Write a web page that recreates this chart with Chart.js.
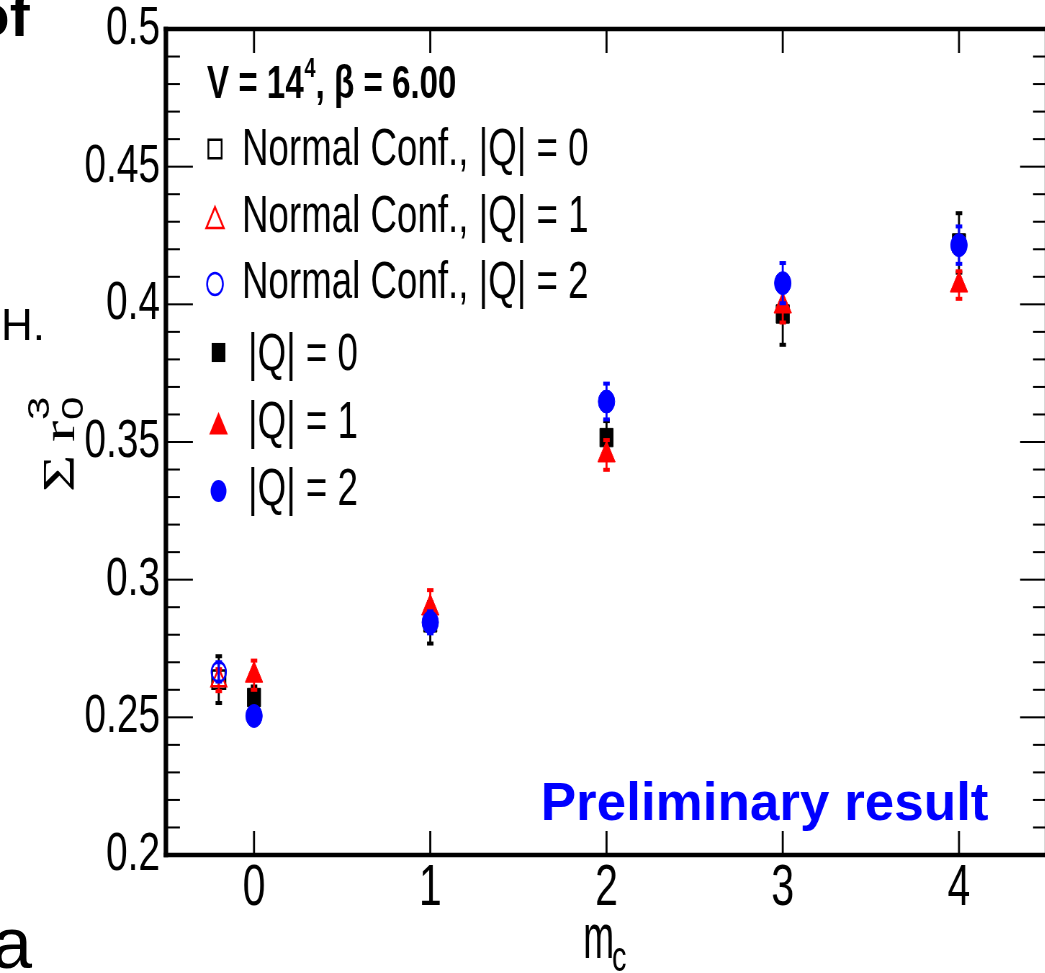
<!DOCTYPE html>
<html><head><meta charset="utf-8">
<script src="https://cdn.jsdelivr.net/npm/chart.js@4.4.1/dist/chart.umd.min.js"></script>
<style>
html,body{margin:0;padding:0;background:#fff;overflow:hidden;width:1045px;height:973px;position:relative;}
#wrap{position:absolute;left:0;top:0;width:1480px;height:973px;transform:scaleX(0.72);transform-origin:0 0;}
canvas{display:block;}
.slide{position:absolute;font-family:"Liberation Sans",Arial,sans-serif;color:#000;white-space:nowrap;line-height:1;}
</style></head><body>
<div id="wrap"><canvas id="c" width="1480" height="973" style="width:1480px;height:973px"></canvas></div>
<div class="slide" style="left:-27px;top:-14px;font-size:60px;font-weight:bold;">of</div>
<div class="slide" style="left:1px;top:303px;font-size:44px;">H.</div>
<div class="slide" style="left:-8px;top:907px;font-size:72px;">a</div>
<script>
// ---- data ----
const xNormal = [-0.2];
const xMain = [0, 1, 2, 3, 4];
const normQ0 = [0.2637];
const normQ0Err = [0.0085];
const normQ1 = [0.2635];
const normQ1Err = [0.004];
const normQ2 = [0.2665];
const normQ2Err = [0.0035];
const q0 = [0.2572, 0.2843, 0.3516, 0.3965, 0.4223];
const q0Err = [0.004, 0.0075, 0.006, 0.0112, 0.0108];
const q1 = [0.2653, 0.2897, 0.3453, 0.3994, 0.4070];
const q1Err = [0.0053, 0.0065, 0.0054, 0.006, 0.005];
const q2 = [0.2505, 0.2845, 0.3647, 0.4077, 0.4215];
const q2Err = [0.003, 0.004, 0.0065, 0.0073, 0.0068];
const xTickValues = [0, 1, 2, 3, 4];
const xTickLabels = ['0', '1', '2', '3', '4'];
const yTickValues = [0.2, 0.25, 0.3, 0.35, 0.4, 0.45, 0.5];
const yTickLabels = ['0.2', '0.25', '0.3', '0.35', '0.4', '0.45', '0.5'];
const yMinorStep = 0.01;
const xRange = [-0.5, 4.5];
const yRange = [0.2, 0.5];
const legendTitle = ['V = 14', '4', ', \u03B2 = 6.00'];
const legendLabels = ['Normal Conf., |Q| = 0', 'Normal Conf., |Q| = 1', 'Normal Conf., |Q| = 2', '|Q| = 0', '|Q| = 1', '|Q| = 2'];

const SQ = 0.72; // horizontal squeeze of the whole figure
const SANS = '"Liberation Sans", Arial, sans-serif';
const BLACK = '#000000', RED = '#ff0000', BLUE = '#0000ff';

function ds(label, xs, ys, errs, color, style, radius, filled, order) {
  return {
    label, errors: errs,
    data: xs.map((x, i) => ({x: x, y: ys[i]})),
    pointStyle: style, pointRadius: radius, pointHoverRadius: radius,
    backgroundColor: filled ? color : 'rgba(0,0,0,0)',
    borderColor: color, pointBorderWidth: filled ? 1 : 2.5,
    showLine: false, order: order, errColor: color
  };
}

const datasets = [
  ds('Normal Conf., |Q| = 0', xNormal, normQ0, normQ0Err, BLACK, 'rect', 13, false, 5),
  ds('Normal Conf., |Q| = 1', xNormal, normQ1, normQ1Err, RED, 'triangle', 12, false, 4),
  ds('Normal Conf., |Q| = 2', xNormal, normQ2, normQ2Err, BLUE, 'circle', 10, false, 3),
  ds('|Q| = 0', xMain, q0, q0Err, BLACK, 'rect', 13, true, 2),
  ds('|Q| = 1', xMain, q1, q1Err, RED, 'triangle', 14, true, 1),
  ds('|Q| = 2', xMain, q2, q2Err, BLUE, 'circle', 11.5, true, 0)
];

function marker(ctx, style, x, y, r, color, filled) {
  ctx.save();
  ctx.beginPath();
  if (style === 'rect') {
    const s = r * Math.SQRT1_2;
    ctx.rect(x - s, y - s, 2 * s, 2 * s);
  } else if (style === 'circle') {
    ctx.arc(x, y, r, 0, 2 * Math.PI);
  } else {
    const a = Math.sin(2 * Math.PI / 3) * r;
    ctx.moveTo(x, y - r);
    ctx.lineTo(x + a, y + r / 2);
    ctx.lineTo(x - a, y + r / 2);
    ctx.closePath();
  }
  if (filled) { ctx.fillStyle = color; ctx.fill(); }
  else { ctx.strokeStyle = color; ctx.lineWidth = 2.5; ctx.stroke(); }
  ctx.restore();
}

const errorBars = {
  id: 'errorBars',
  beforeDatasetDraw(chart, args) {
    const d = chart.data.datasets[args.index];
    if (!d.errors) return;
    const ctx = chart.ctx, xs = chart.scales.x, ys = chart.scales.y;
    ctx.save();
    ctx.fillStyle = d.errColor;
    d.data.forEach((p, i) => {
      const px = xs.getPixelForValue(p.x);
      const top = ys.getPixelForValue(p.y + d.errors[i]);
      const bot = ys.getPixelForValue(p.y - d.errors[i]);
      ctx.fillRect(px - 1.4, top, 2.8, bot - top);
      ctx.fillRect(px - 4.5, top - 2, 9, 4);
      ctx.fillRect(px - 4.5, bot - 2, 9, 4);
    });
    ctx.restore();
  }
};

const frame = {
  id: 'frame',
  beforeDatasetsDraw(chart) {
    const ctx = chart.ctx, xs = chart.scales.x, ys = chart.scales.y;
    const L = xs.getPixelForValue(xRange[0]), R = xs.getPixelForValue(xRange[1]);
    const T = ys.getPixelForValue(yRange[1]), B = ys.getPixelForValue(yRange[0]);
    ctx.save();
    ctx.fillStyle = '#000';
    const nMinor = Math.round((yRange[1] - yRange[0]) / yMinorStep);
    for (let k = 0; k <= nMinor; k++) {
      const v = yRange[0] + k * yMinorStep;
      const major = yTickValues.some(t => Math.abs(t - v) < 1e-9);
      const len = major ? 37.5 : 19.5;
      const py = ys.getPixelForValue(v);
      ctx.fillRect(L, py - 1, len, 2);
      ctx.fillRect(R - len, py - 1, len, 2);
    }
    xTickValues.forEach(v => {
      const px = xs.getPixelForValue(v);
      ctx.fillRect(px - 1.4, B - 24, 2.8, 24);
      ctx.fillRect(px - 1.4, T, 2.8, 24);
    });
    const hw = 4.5, vw = 4.5 / SQ;
    ctx.fillRect(L - vw / 2, T - hw / 2, R - L + vw, hw);
    ctx.fillRect(L - vw / 2, B - hw / 2, R - L + vw, hw);
    ctx.fillRect(L - vw / 2, T - hw / 2, vw, B - T + hw);
    ctx.fillRect(R - vw / 2, T - hw / 2, vw, B - T + hw);
    ctx.restore();
  },
  afterDraw(chart) {
    const ctx = chart.ctx;
    ctx.save();
    ctx.fillStyle = '#000';
    ctx.textBaseline = 'alphabetic';
    ctx.textAlign = 'left';
    let x = 287.5;
    ctx.font = 'bold 46px ' + SANS;
    ctx.fillText(legendTitle[0], x, 98);
    x += ctx.measureText(legendTitle[0]).width + 1;
    ctx.font = 'bold 28px ' + SANS;
    ctx.fillText(legendTitle[1], x, 77);
    x += ctx.measureText(legendTitle[1]).width;
    ctx.font = 'bold 46px ' + SANS;
    ctx.fillText(legendTitle[2], x, 98);
    const rows = [
      {mx: 298.6, my: 149, r: 13, tx: 336, ty: 165},
      {mx: 298.6, my: 221, r: 14, tx: 336, ty: 232},
      {mx: 298.6, my: 284, r: 11, tx: 336, ty: 298},
      {mx: 303.5, my: 352.5, r: 13.5, tx: 344.5, ty: 370},
      {mx: 303.5, my: 427, r: 15, tx: 344.5, ty: 438},
      {mx: 303.5, my: 491, r: 11, tx: 344.5, ty: 505}
    ];
    ctx.font = '51px ' + SANS;
    rows.forEach((rw, i) => {
      const d = chart.data.datasets[i];
      marker(ctx, d.pointStyle, rw.mx, rw.my, rw.r, d.borderColor, d.backgroundColor !== 'rgba(0,0,0,0)');
      ctx.fillStyle = '#000';
      ctx.fillText(legendLabels[i], rw.tx, rw.ty);
    });
    ctx.save();
    ctx.translate(810, 958);
    ctx.scale(0.82, 1);
    ctx.font = '63px ' + SANS;
    ctx.fillText('m', 0, 0);
    ctx.restore();
    ctx.save();
    ctx.translate(850, 971);
    ctx.scale(0.95, 1);
    ctx.font = '42px ' + SANS;
    ctx.fillText('c', 0, 0);
    ctx.restore();
    ctx.save();
    ctx.translate(103, 492);
    ctx.rotate(-Math.PI / 2);
    ctx.font = '64px "Liberation Serif", "DejaVu Serif", serif';
    ctx.fillText('\u03A3', 0, 0);
    ctx.fillText('r', 50, 0);
    ctx.font = '42px ' + SANS;
    ctx.fillText('3', 72, -35);
    ctx.fillText('0', 72, 12);
    ctx.restore();
    ctx.save();
    ctx.translate(751, 820);
    ctx.scale(1 / SQ, 1);
    ctx.font = 'bold 53px ' + SANS;
    ctx.fillStyle = BLUE;
    ctx.fillText('Preliminary result', 0, 0);
    ctx.restore();
    ctx.restore();
  }
};

new Chart(document.getElementById('c'), {
  type: 'scatter',
  data: { datasets },
  options: {
    responsive: false,
    animation: false,
    devicePixelRatio: 1,
    layout: { padding: { left: 0, right: 25.7, top: 29, bottom: 0 } },
    plugins: { legend: { display: false }, tooltip: { enabled: false } },
    scales: {
      x: {
        type: 'linear', min: xRange[0], max: xRange[1],
        afterBuildTicks: s => { s.ticks = xTickValues.map(v => ({value: v})); },
        afterFit: s => { s.height = 118; s.paddingLeft = 0; s.paddingRight = 0; },
        ticks: { callback: (v, i) => xTickLabels[i], font: { family: SANS, size: 57 }, color: '#000', padding: 0, maxRotation: 0, autoSkip: false },
        grid: { display: false, drawTicks: false },
        border: { display: false },
        title: { display: false }
      },
      y: {
        type: 'linear', min: yRange[0], max: yRange[1],
        afterBuildTicks: s => { s.ticks = yTickValues.map(v => ({value: v})); },
        afterFit: s => { s.width = 230.4; s.paddingTop = 0; s.paddingBottom = 0; },
        ticks: { callback: (v, i) => yTickLabels[i], font: { family: SANS, size: 54 }, color: '#000', padding: 8, autoSkip: false },
        grid: { display: false, drawTicks: false },
        border: { display: false },
        title: { display: false }
      }
    }
  },
  plugins: [frame, errorBars]
});
</script>
</body></html>
